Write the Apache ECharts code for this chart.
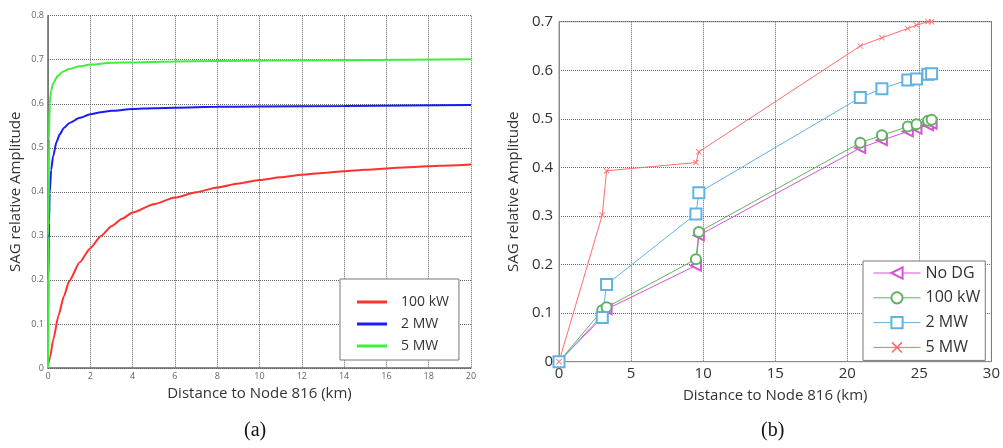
<!DOCTYPE html>
<html>
<head>
<meta charset="utf-8">
<script src="https://cdn.jsdelivr.net/npm/echarts@6/dist/echarts.min.js"></script>
<style>html,body{margin:0;padding:0;background:#fff}#c{width:1003px;height:448px}</style>
</head>
<body>
<div id="c"></div>
<script>
// ---------- Chart (a) data ----------
const aXTicks = [0, 20, 2];          // min, max, interval
const aYTicks = [0, 0.8, 0.1];
const a100kW = [[0,0.005],[0.1,0.025],[0.25,0.065],[0.5,0.12],[0.75,0.163],[1,0.197],[1.5,0.24],[2,0.272],[2.5,0.3],[3,0.322],[3.5,0.339],[4,0.353],[5,0.372],[6,0.387],[7,0.399],[8,0.41],[9,0.419],[10,0.427],[11,0.433],[12,0.439],[13,0.443],[14,0.447],[15,0.45],[16,0.453],[17,0.456],[18,0.458],[19,0.46],[20,0.462]];
const a2MW = [[0,0],[0.02,0.2],[0.05,0.33],[0.08,0.397],[0.15,0.45],[0.24,0.48],[0.4,0.513],[0.55,0.53],[0.75,0.545],[1,0.556],[1.5,0.568],[2,0.576],[2.5,0.581],[3,0.584],[4,0.588],[5,0.59],[6,0.591],[8,0.593],[10,0.594],[14,0.595],[17,0.596],[20,0.597]];
const a5MW = [[0,0],[0.02,0.3],[0.05,0.52],[0.08,0.6],[0.15,0.63],[0.24,0.646],[0.45,0.663],[0.7,0.673],[1,0.679],[1.5,0.685],[2,0.689],[3,0.693],[4,0.694],[6,0.696],[8,0.697],[14,0.699],[20,0.701]];

// ---------- Chart (b) data ----------
const bXTicks = [0, 30, 5];
const bYTicks = [0, 0.7, 0.1];
const bDist   = [0, 3.0, 3.3, 9.5, 9.7, 20.9, 22.4, 24.2, 24.8, 25.6, 25.85];
const bNoDG   = [0, 0.095, 0.108, 0.198, 0.26, 0.44, 0.456, 0.474, 0.48, 0.487, 0.49];
const b100kW  = [0, 0.106, 0.112, 0.211, 0.267, 0.451, 0.466, 0.484, 0.489, 0.496, 0.498];
const b2MW    = [0, 0.091, 0.159, 0.304, 0.348, 0.544, 0.562, 0.58, 0.582, 0.592, 0.593];
const b5MW    = [0, 0.302, 0.393, 0.41, 0.432, 0.65, 0.667, 0.686, 0.693, 0.70, 0.70];

const FONT = '"Open Sans", "Liberation Sans", sans-serif';
const pair = (xs, ys) => xs.map((x, i) => [x, ys[i]]);
const labels = {
  a100: '100 kW', a2: '2 MW', a5: '5 MW',
  bNo: 'No DG', b100: '100 kW', b2: '2 MW', b5: '5 MW'
};
const crossPath = 'path://M0,1L1,0L5,4L9,0L10,1L6,5L10,9L9,10L5,6L1,10L0,9L4,5Z';
const mkSplit = () => ({ show: true, showMaxLine: true,
  lineStyle: { color: '#666666', type: 'dotted', width: 1 } });

const chart = echarts.init(document.getElementById('c'), null, { renderer: 'canvas' });
chart.setOption({
  animation: false,
  backgroundColor: '#fff',
  textStyle: { fontFamily: FONT },
  grid: [
    { left: 48, right: 532, top: 15.7, bottom: 80, containLabel: false },
    { left: 559, right: 9, top: 21.7, bottom: 86.3, containLabel: false, show: true, borderColor: '#8c8c8c', borderWidth: 1 }
  ],
  xAxis: [
    { type: 'value', gridIndex: 0, min: aXTicks[0], max: aXTicks[1], interval: aXTicks[2],
      axisLine: { show: true, onZero: false, lineStyle: { color: '#666', width: 1.5 } },
      axisTick: { show: false }, splitLine: mkSplit(),
      axisLabel: { color: '#666', fontSize: 9, margin: 4, fontFamily: FONT },
      name: 'Distance to Node 816 (km)', nameLocation: 'middle', nameGap: 18,
      nameTextStyle: { color: '#333', fontSize: 15, fontFamily: FONT } },
    { type: 'value', gridIndex: 1, min: bXTicks[0], max: bXTicks[1], interval: bXTicks[2],
      axisLine: { show: true, onZero: false, lineStyle: { color: '#8c8c8c', width: 1 } },
      axisTick: { show: false }, splitLine: mkSplit(),
      axisLabel: { color: '#333', fontSize: 15, margin: 5, fontFamily: FONT },
      name: 'Distance to Node 816 (km)', nameLocation: 'middle', nameGap: 27,
      nameTextStyle: { color: '#333', fontSize: 15, fontFamily: FONT } }
  ],
  yAxis: [
    { type: 'value', gridIndex: 0, min: aYTicks[0], max: aYTicks[1], interval: aYTicks[2],
      axisLine: { show: true, onZero: false, lineStyle: { color: '#666', width: 1.5 } },
      axisTick: { show: false }, splitLine: mkSplit(),
      axisLabel: { color: '#666', fontSize: 9, margin: 4, fontFamily: FONT,
        formatter: v => v === 0 ? '0' : v.toFixed(1) },
      name: 'SAG relative Amplitude', nameLocation: 'middle', nameGap: 25,
      nameTextStyle: { color: '#333', fontSize: 15, fontFamily: FONT } },
    { type: 'value', gridIndex: 1, min: bYTicks[0], max: bYTicks[1], interval: bYTicks[2],
      axisLine: { show: true, onZero: false, lineStyle: { color: '#8c8c8c', width: 1 } },
      axisTick: { show: false }, splitLine: mkSplit(),
      axisLabel: { color: '#333', fontSize: 15, margin: 6, fontFamily: FONT,
        formatter: v => v === 0 ? '0' : v.toFixed(1) },
      name: 'SAG relative Amplitude', nameLocation: 'middle', nameGap: 38,
      nameTextStyle: { color: '#333', fontSize: 15, fontFamily: FONT } }
  ],
  legend: [
    { data: ['a100', 'a2', 'a5'], orient: 'vertical', left: 340, top: 279,
      itemWidth: 30, itemHeight: 3, itemGap: 6, padding: [15, 10, 6, 17],
      backgroundColor: '#fff', borderColor: '#777', borderWidth: 1, borderRadius: 0,
      textStyle: { color: '#333', fontSize: 14, fontFamily: FONT, padding: [0, 0, 0, 9], lineHeight: 16 },
      formatter: n => labels[n], icon: 'rect', itemStyle: { borderWidth: 0 } },
    { data: ['bNo', 'b100', 'b2', 'b5'], orient: 'vertical', left: 863, top: 261,
      itemWidth: 47, itemHeight: 14, itemGap: 8.8, padding: [4, 5, 5, 10],
      backgroundColor: '#fff', borderColor: '#777', borderWidth: 1, borderRadius: 0,
      textStyle: { color: '#333', fontSize: 16, fontFamily: FONT, padding: [0, 0, 0, 0] },
      lineStyle: { width: 1 },
      formatter: n => labels[n] }
  ],
  series: [
    { name: 'a100', type: 'line', xAxisIndex: 0, yAxisIndex: 0, data: a100kW, showSymbol: false,
      smooth: 0.2, smoothMonotone: 'x', color: '#ff3030', lineStyle: { width: 2 } },
    { name: 'a2', type: 'line', xAxisIndex: 0, yAxisIndex: 0, data: a2MW, showSymbol: false,
      smooth: 0.2, smoothMonotone: 'x', color: '#1a1aff', lineStyle: { width: 2 } },
    { name: 'a5', type: 'line', xAxisIndex: 0, yAxisIndex: 0, data: a5MW, showSymbol: false,
      smooth: 0.2, smoothMonotone: 'x', color: '#40ee40', lineStyle: { width: 2 } },
    { name: 'bNo', type: 'line', xAxisIndex: 1, yAxisIndex: 1, data: pair(bDist, bNoDG),
      symbol: 'emptyTriangle', symbolRotate: 90, symbolSize: 10, color: '#d752d7',
      lineStyle: { width: 1 }, itemStyle: { borderWidth: 1 } },
    { name: 'b100', type: 'line', xAxisIndex: 1, yAxisIndex: 1, data: pair(bDist, b100kW),
      symbol: 'emptyCircle', symbolSize: 10, color: '#62b162',
      lineStyle: { width: 1 }, itemStyle: { borderWidth: 1 } },
    { name: 'b2', type: 'line', xAxisIndex: 1, yAxisIndex: 1, data: pair(bDist, b2MW),
      symbol: 'emptyRect', symbolSize: 11, color: '#5fb3e3',
      lineStyle: { width: 1 }, itemStyle: { borderWidth: 1 } },
    { name: 'b5', type: 'line', xAxisIndex: 1, yAxisIndex: 1, data: pair(bDist, b5MW),
      symbol: crossPath, symbolSize: 6, color: '#ff6b6b',
      lineStyle: { width: 1 }, itemStyle: { borderWidth: 0 } }
  ],
  graphic: [
    { type: 'text', left: 244, top: 421, style: { text: '(a)', font: '20px "Liberation Serif", "DejaVu Serif", serif', fill: '#111' } },
    { type: 'text', left: 761, top: 421, style: { text: '(b)', font: '20px "Liberation Serif", "DejaVu Serif", serif', fill: '#111' } }
  ]
});
</script>
</body>
</html>
